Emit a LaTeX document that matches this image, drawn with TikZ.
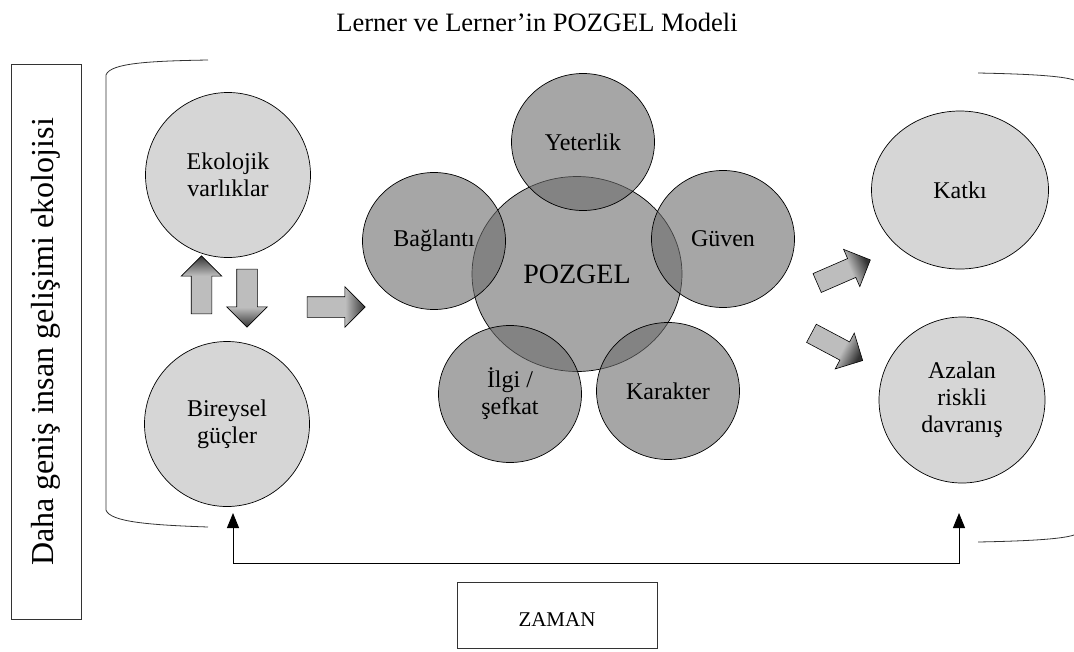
\documentclass[tikz,border=0pt]{standalone}
\usepackage{fontspec}
\setmainfont{Liberation Serif}
\usetikzlibrary{shapes.geometric, shapes.arrows, arrows.meta, positioning}

% grey block arrows that darken towards the tip
\pgfdeclarehorizontalshading{arrowfade}{100bp}{color(0bp)=(gray!52); color(58bp)=(gray!52); color(75bp)=(black!80); color(100bp)=(black!80)}

\begin{document}
\begin{tikzpicture}[
		x=1pt, y=-1pt,
		font=\fontsize{24}{27}\selectfont,
		% Style for the light outer circles
		outer/.style={
			ellipse, draw=black, line width=0.7pt,
			fill=gray!32, align=center, inner sep=0pt
		},
		% Style for the overlapping POZGEL circles
		pzcircle/.style={
			ellipse, draw=black, line width=0.7pt,
			fill=black!58, fill opacity=0.6, text opacity=1,
			align=center, inner sep=0pt,
			minimum width=143pt, minimum height=137pt
		},
		% Style for the block arrows
		blockarrow/.style={
			single arrow, draw=black, line width=0.6pt,
			shade, shading=arrowfade,
			minimum height=58pt, inner sep=10pt,
			single arrow head extend=10pt
		},
		bracket/.style={line width=0.8pt, black!80},
		framebox/.style={draw=black!80, line width=0.8pt},
		timeline/.style={line width=1pt, {Triangle[width=12pt,length=15pt]}-{Triangle[width=12pt,length=15pt]}}
		]
		\useasboundingbox (0,0) rectangle (1074,651);
		
		% --- 1. TITLE ---
		\node[font=\fontsize{26.5}{30}\selectfont] (title) at (537,22) {Lerner ve Lerner’in POZGEL Modeli};
		
		% --- 2. ECOLOGY BOX AND BRACKETS ---
		\node[framebox, rotate=90, minimum width=555pt, minimum height=70pt,
			font=\fontsize{32}{36}\selectfont] (eco) at (46,342) {Daha geniş insan gelişimi ekolojisi};
		\draw[bracket] (208,60) .. controls (150,61) and (110,63) .. (106,75)
			-- (106,510) .. controls (110,522) and (150,525) .. (208,527);
		\draw[bracket] (978,73) .. controls (1030,74) and (1062,76) .. (1074,80);
		\draw[bracket] (978,542) .. controls (1030,541) and (1062,539) .. (1074,535);
		
		% --- 3. INPUTS ---
		\node[outer, minimum width=165pt, minimum height=165pt] (eko) at (228,175) {Ekolojik\\varlıklar};
		\node[outer, minimum width=165pt, minimum height=165pt] (bir) at (227,424) {Bireysel\\güçler};
		\node[blockarrow, rotate=90, shading angle=90] (up) at (201.5,290) {};
		\node[blockarrow, rotate=-90, shading angle=-90] (down) at (247,293) {};
		\node[blockarrow] (ahead) at (331,307) {};
		
		% --- 4. POZGEL AND THE FIVE C's ---
		\node[pzcircle, minimum width=210pt, minimum height=195pt,
			font=\fontsize{28}{30}\selectfont] (poz) at (577,274) {POZGEL};
		\node[pzcircle] (yet) at (583,142) {Yeterlik};
		\node[pzcircle] (bag) at (434,241) {Bağlantı};
		\node[pzcircle] (guv) at (723,239) {Güven};
		\node[pzcircle] (ilg) at (510,394) {İlgi /\\şefkat};
		\node[pzcircle] (kar) at (668,391) {Karakter};
		
		% --- 5. OUTCOMES ---
		\node[blockarrow, rotate=23.5, shading angle=23.5] (toKat) at (839,273.5) {};
		\node[blockarrow, rotate=-28, shading angle=-28] (toAza) at (832.5,344.5) {};
		\node[outer, minimum width=177pt, minimum height=158pt] (kat) at (960,190) {Katkı};
		\node[outer, minimum width=166pt, minimum height=166pt] (aza) at (962,400) {Azalan\\riskli\\davranış};
		
		% --- 6. TIME ---
		\coordinate (ltip) at (233,513);
		\coordinate (rtip) at (959,513);
		\coordinate (tl) at (233,563);
		\coordinate (tr) at (959,563);
		\draw[timeline] (ltip) -- (tl) -- (tr) -- (rtip);
		\node[framebox, minimum width=200pt, minimum height=66pt, text height=24pt, text depth=2pt,
			font=\fontsize{21}{24}\selectfont] (zaman) at (557,615) {ZAMAN};
		
	\end{tikzpicture}
\end{document}
